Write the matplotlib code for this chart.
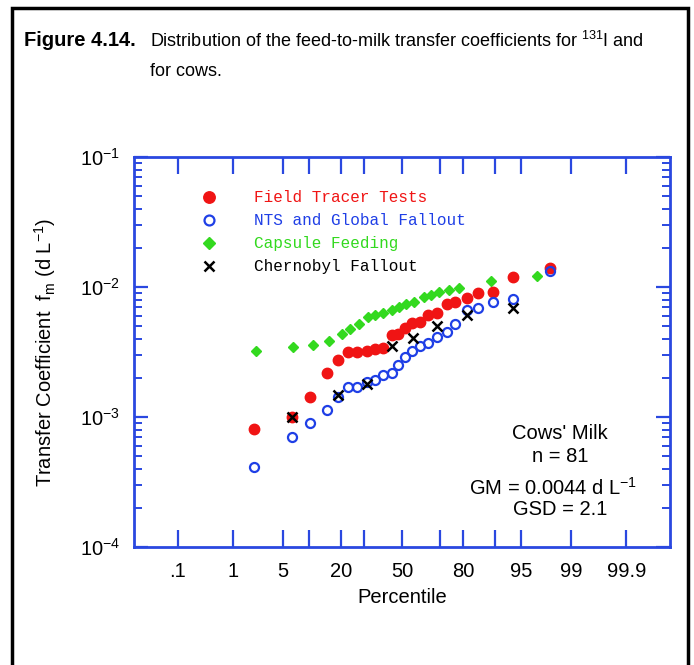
import numpy as np
import matplotlib
matplotlib.use('Agg')
import matplotlib.pyplot as plt
import matplotlib.ticker as mtick
from matplotlib.patches import Rectangle
from statistics import NormalDist

plt.rcParams['font.family'] = ['Liberation Sans', 'DejaVu Sans']
plt.rcParams['mathtext.fontset'] = 'custom'
plt.rcParams['mathtext.rm'] = 'Liberation Sans'
plt.rcParams['mathtext.it'] = 'Liberation Sans:italic'
plt.rcParams['mathtext.bf'] = 'Liberation Sans:bold'

# ── Data (percentile, transfer coefficient d/L) ──────────────────────────────

field_pct = [2.1, 6.5, 10.3, 15.1, 18.9, 22.8, 26.8, 31.5, 35.5, 39.7, 44.5, 47.8,
             51.6, 55.5, 59.8, 64.0, 68.5, 73.2, 76.7, 81.5, 85.2, 89.5, 93.7, 97.9]
field_fm = [8.1e-4, 1.0e-3, 1.43e-3, 2.18e-3, 2.74e-3, 3.16e-3, 3.16e-3, 3.22e-3,
            3.34e-3, 3.40e-3, 4.27e-3, 4.35e-3, 4.84e-3, 5.28e-3, 5.38e-3, 6.09e-3,
            6.31e-3, 7.40e-3, 7.67e-3, 8.23e-3, 9.0e-3, 9.16e-3, 1.19e-2, 1.40e-2]

nts_pct = field_pct
nts_fm = [4.1e-4, 7.0e-4, 9.0e-4, 1.13e-3, 1.43e-3, 1.70e-3, 1.70e-3, 1.86e-3,
          1.93e-3, 2.10e-3, 2.18e-3, 2.51e-3, 2.90e-3, 3.22e-3, 3.52e-3, 3.71e-3,
          4.12e-3, 4.51e-3, 5.19e-3, 6.65e-3, 6.90e-3, 7.67e-3, 8.09e-3, 1.33e-2]

capsule_pct = [2.2, 6.7, 11.0, 15.8, 20.4, 23.9, 27.5, 31.9, 35.5, 39.7, 44.5, 48.3,
               52.2, 56.6, 61.7, 65.5, 69.5, 74.3, 78.5, 89.0, 96.8]
capsule_fm = [3.22e-3, 3.45e-3, 3.58e-3, 3.84e-3, 4.35e-3, 4.75e-3, 5.19e-3, 5.88e-3,
              6.09e-3, 6.31e-3, 6.65e-3, 7.02e-3, 7.40e-3, 7.67e-3, 8.38e-3, 8.68e-3,
              9.16e-3, 9.49e-3, 9.82e-3, 1.11e-2, 1.22e-2]

chern_pct = [6.5, 18.9, 31.5, 44.5, 56.0, 68.5, 81.5, 93.7]
chern_fm = [1.0e-3, 1.48e-3, 1.79e-3, 3.52e-3, 4.06e-3, 5.01e-3, 6.09e-3, 6.90e-3]

xtick_vals = [0.1, 1, 5, 20, 50, 80, 95, 99, 99.9]
xtick_labels = ['.1', '1', '5', '20', '50', '80', '95', '99', '99.9']
xminor_vals = [10, 30, 70, 90]

RED = '#f01414'
BLUE = '#1f3fe6'
GREEN = '#33d91f'
AXBLUE = '#2a48e0'
FS = 14.5

# ── Normal-probability scale for the x-axis ─────────────────────────────────

_nd = NormalDist()
_ppf = np.vectorize(lambda v: _nd.inv_cdf(v / 100.0), otypes=[float])
_cdf = np.vectorize(lambda v: _nd.cdf(v) * 100.0, otypes=[float])


def pct_to_z(p):
    p = np.clip(np.asarray(p, dtype=float), 1e-9, 100 - 1e-9)
    return _ppf(p)


def z_to_pct(z):
    return _cdf(np.asarray(z, dtype=float))


fig = plt.figure(figsize=(6.94, 6.65), dpi=100)
ax = fig.add_axes([134 / 694, 118 / 665, 536 / 694, 390 / 665])
ax.set_xscale('function', functions=(pct_to_z, z_to_pct))
ax.set_yscale('log')

ax.plot(capsule_pct, capsule_fm, linestyle='none', marker='D', ms=5.5,
        color=GREEN, mec=GREEN, label='Capsule Feeding', zorder=3)
ax.plot(field_pct, field_fm, linestyle='none', marker='o', ms=7.5,
        color=RED, mec=RED, label='Field Tracer Tests', zorder=4)
ax.plot(nts_pct, nts_fm, linestyle='none', marker='o', ms=6.5, mfc='none',
        mec=BLUE, mew=1.6, label='NTS and Global Fallout', zorder=5)
ax.plot(chern_pct, chern_fm, linestyle='none', marker='x', ms=7, mec='black',
        mew=1.8, label='Chernobyl Fallout', zorder=6)

lim = z_to_pct([-3.69, 3.69])
ax.set_xlim(lim[0], lim[1])
ax.set_ylim(1e-4, 1e-1)

ax.xaxis.set_major_locator(mtick.FixedLocator(xtick_vals))
ax.xaxis.set_major_formatter(mtick.FixedFormatter(xtick_labels))
ax.xaxis.set_minor_locator(mtick.FixedLocator(xminor_vals))
ax.xaxis.set_minor_formatter(mtick.NullFormatter())

ax.tick_params(axis='x', which='both', direction='in', top=True, length=12,
               width=1.6, color=AXBLUE, pad=11, labelsize=FS)
ax.tick_params(axis='y', which='major', direction='in', right=True, length=10,
               width=1.6, color=AXBLUE, pad=10, labelsize=FS)
ax.tick_params(axis='y', which='minor', direction='in', right=True, length=6,
               width=1.4, color=AXBLUE)
for s in ax.spines.values():
    s.set_color(AXBLUE)
    s.set_linewidth(2)

ax.set_xlabel('Percentile', fontsize=FS, labelpad=5)
ax.set_ylabel('Transfer Coefficient  f$_\\mathregular{m}$ (d L$^{\\mathregular{-1}}$)',
              fontsize=FS, labelpad=16)

handles, labels = ax.get_legend_handles_labels()
order = [1, 2, 0, 3]
leg = ax.legend([handles[i] for i in order], [labels[i] for i in order],
                loc='upper left', bbox_to_anchor=(0.125, 0.915), frameon=False,
                numpoints=1, handlelength=1.0, handletextpad=2.3,
                labelspacing=0.5, borderpad=0, borderaxespad=0,
                labelcolor='markeredgecolor', markerscale=1.1,
                prop={'family': 'Liberation Mono', 'size': 11.5})

ax.text(0.795, 0.292, "Cows' Milk", transform=ax.transAxes, ha='center',
        va='center', fontsize=FS)
ax.text(0.795, 0.231, 'n = 81', transform=ax.transAxes, ha='center',
        va='center', fontsize=FS)
ax.text(0.782, 0.152, 'GM = 0.0044 d L$^{\\mathregular{-1}}$', transform=ax.transAxes,
        ha='center', va='center', fontsize=FS)
ax.text(0.795, 0.095, 'GSD = 2.1', transform=ax.transAxes, ha='center',
        va='center', fontsize=FS)

# ── Caption and outer frame ─────────────────────────────────────────────────

fig.text(24 / 694, 1 - 41 / 665, 'Figure 4.14.', fontsize=14.5, fontweight='bold',
         va='center', ha='left')
fig.text(150 / 694, 1 - 41 / 665,
         'Distribution of the feed-to-milk transfer coefficients for $^{131}$I and',
         fontsize=13, va='center', ha='left')
fig.text(150 / 694, 1 - 72 / 665, 'for cows.', fontsize=13,
         va='center', ha='left')

fig.patches.append(Rectangle((12 / 694, -0.02), 676 / 694, 1.02 - 8 / 665,
                             transform=fig.transFigure, fill=False,
                             edgecolor='black', linewidth=2.5))

fig.savefig('out.png', dpi=100)
